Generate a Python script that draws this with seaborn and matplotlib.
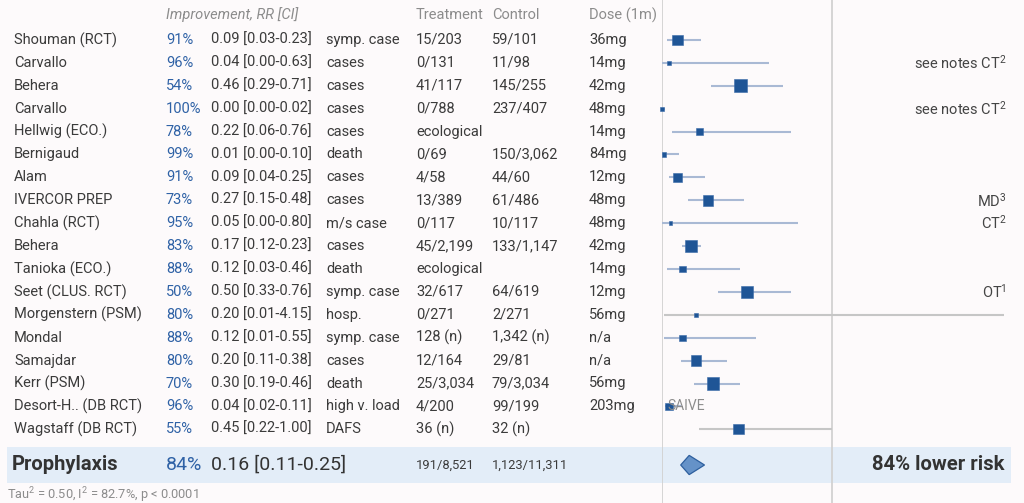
import matplotlib
matplotlib.use("Agg")
import matplotlib.pyplot as plt
import matplotlib.transforms as mtransforms
from matplotlib.patches import Rectangle
import seaborn as sns
import pandas as pd

# ---------------- data ----------------
names = ["Shouman (RCT)", "Carvallo", "Behera", "Carvallo", "Hellwig (ECO.)", "Bernigaud",
         "Alam", "IVERCOR PREP", "Chahla (RCT)", "Behera", "Tanioka (ECO.)", "Seet (CLUS. RCT)",
         "Morgenstern (PSM)", "Mondal", "Samajdar", "Kerr (PSM)", "Desort-H.. (DB RCT)",
         "Wagstaff (DB RCT)"]
improvement = ["91%", "96%", "54%", "100%", "78%", "99%", "91%", "73%", "95%", "83%", "88%",
               "50%", "80%", "88%", "80%", "70%", "96%", "55%"]
rr = [0.09, 0.04, 0.46, 0.00, 0.22, 0.01, 0.09, 0.27, 0.05, 0.17, 0.12, 0.50, 0.20, 0.12,
      0.20, 0.30, 0.04, 0.45]
ci_lo = [0.03, 0.00, 0.29, 0.00, 0.06, 0.00, 0.04, 0.15, 0.00, 0.12, 0.03, 0.33, 0.01, 0.01,
         0.11, 0.19, 0.02, 0.22]
ci_hi = [0.23, 0.63, 0.71, 0.02, 0.76, 0.10, 0.25, 0.48, 0.80, 0.23, 0.46, 0.76, 4.15, 0.55,
         0.38, 0.46, 0.11, 1.00]
outcome = ["symp. case", "cases", "cases", "cases", "cases", "death", "cases", "cases",
           "m/s case", "cases", "death", "symp. case", "hosp.", "symp. case", "cases", "death",
           "high v. load", "DAFS"]
treatment = ["15/203", "0/131", "41/117", "0/788", "ecological", "0/69", "4/58", "13/389",
             "0/117", "45/2,199", "ecological", "32/617", "0/271", "128 (n)", "12/164",
             "25/3,034", "4/200", "36 (n)"]
control = ["59/101", "11/98", "145/255", "237/407", "", "150/3,062", "44/60", "61/486",
           "10/117", "133/1,147", "", "64/619", "2/271", "1,342 (n)", "29/81", "79/3,034",
           "99/199", "32 (n)"]
dose = ["36mg", "14mg", "42mg", "48mg", "14mg", "84mg", "12mg", "48mg", "48mg", "42mg", "14mg",
        "12mg", "56mg", "n/a", "n/a", "56mg", "203mg", ""]
notes = ["", "see notes CT$^{2}$", "", "see notes CT$^{2}$", "", "", "", "MD$^{3}$", "CT$^{2}$",
         "", "", "OT$^{1}$", "", "", "", "", "", ""]
weights = [8.7, 1.2, 11.6, 1.2, 3.8, 1.2, 5.5, 8.2, 1.0, 10.4, 3.2, 9.9, 1.0, 2.9, 8.2, 10.4,
           4.0, 7.6]
headers = ["Improvement, RR [CI]", "Treatment", "Control", "Dose (1m)"]

summary_label = "Prophylaxis"
summary_improvement = "84%"
summary_rr, summary_lo, summary_hi = 0.16, 0.11, 0.25
summary_treatment = "191/8,521"
summary_control = "1,123/11,311"
summary_text = "84% lower risk"
footnote = "Tau$^{2}$ = 0.50, I$^{2}$ = 82.7%, p < 0.0001"
overlay_label = "SAIVE"

# ---------------- style ----------------
sns.set_theme(style="white")
plt.rcParams["font.family"] = ["Roboto", "DejaVu Sans"]
plt.rcParams["mathtext.fontset"] = "custom"
plt.rcParams["mathtext.rm"] = "Roboto"
plt.rcParams["mathtext.it"] = "Roboto:italic"
plt.rcParams["mathtext.bf"] = "Roboto:bold"
plt.rcParams["mathtext.default"] = "rm"

BG = "#fdfafb"
TXT = "#3b3b3b"
BLUE_TXT = "#2f62a6"
GREY_TXT = "#8c8c8c"
MARK = "#1f5596"

W, H = 1024, 503
fig = plt.figure(figsize=(W / 100, H / 100), dpi=100, facecolor=BG)

row_px0, row_dy = 40.0, 22.9
y_top = -row_px0 / row_dy
y_bot = (H - row_px0) / row_dy
x0_px, x1_px = 662, 1004
ax = fig.add_axes([x0_px / W, 0, (x1_px - x0_px) / W, 1])
ax.set_xlim(0, (x1_px - x0_px) / 170.0)
ax.set_ylim(y_bot, y_top)
ax.set_facecolor("none")

trans = mtransforms.blended_transform_factory(fig.transFigure, ax.transData)

n = len(names)
rows = list(range(n))
summary_row = (465 - row_px0) / row_dy

# summary band
band = Rectangle((7 / W, summary_row - 0.79), (1011 - 7) / W, 1.58, transform=trans,
                 facecolor="#e3edf8", edgecolor="none", zorder=0, clip_on=False)
ax.add_patch(band)

# reference lines
ax.axvline(0, color="#d2d2d2", lw=1.3, zorder=1)
ax.axvline(1, color="#d2d2d2", lw=1.3, zorder=1)

# CI lines
line_cols = ["#c6c6c6" if h >= 1 else "#a9b9d4" for h in ci_hi]
ax.hlines(rows, ci_lo, ci_hi, colors=line_cols, lw=1.5, zorder=2)

# squares
df = pd.DataFrame({"rr": rr, "row": rows, "w": weights})
k = 7.19
sns.scatterplot(data=df, x="rr", y="row", size="w", sizes=(min(weights) * k, max(weights) * k),
                size_norm=(min(weights), max(weights)), marker="s", color=MARK,
                edgecolor="#3a6aa8", linewidth=0.4, legend=False, ax=ax, zorder=4,
                clip_on=False)
ax.set_xlabel("")
ax.set_ylabel("")
ax.axis("off")

# summary diamond
dh = 0.42
ax.fill([summary_lo, summary_rr, summary_hi, summary_rr],
        [summary_row, summary_row - dh, summary_row, summary_row + dh],
        facecolor="#6592c8", edgecolor="#2d5f9e", lw=0.9, zorder=4)

# ---------------- texts ----------------
fs = 10.5
col_x = {"name": 14, "pct": 166, "rr": 211, "out": 326, "trt": 416, "ctl": 492, "dose": 589}

def t(xpx, y, s, **kw):
    kw.setdefault("fontsize", fs)
    kw.setdefault("color", TXT)
    kw.setdefault("va", "center")
    ax.text(xpx / W, y, s, transform=trans, clip_on=False, **kw)

hy = (15 - row_px0) / row_dy
t(col_x["pct"], hy, headers[0], color=GREY_TXT, style="italic")
t(col_x["trt"], hy, headers[1], color=GREY_TXT)
t(col_x["ctl"], hy, headers[2], color=GREY_TXT)
t(col_x["dose"], hy, headers[3], color=GREY_TXT)

for i in range(n):
    t(col_x["name"], i, names[i])
    t(col_x["pct"], i, improvement[i], color=BLUE_TXT)
    t(col_x["rr"], i, f"{rr[i]:.2f} [{ci_lo[i]:.2f}-{ci_hi[i]:.2f}]")
    t(col_x["out"], i, outcome[i])
    t(col_x["trt"], i, treatment[i])
    t(col_x["ctl"], i, control[i])
    t(col_x["dose"], i, dose[i])
    if notes[i]:
        t(1007, i, notes[i], ha="right", color="#444444")

# SAIVE overlay on the Desort-H. row
t(667, 16, overlay_label, color=GREY_TXT, fontsize=10, zorder=6)

# summary row
t(12, summary_row, summary_label, fontsize=14.5, fontweight="bold", color="#333333")
t(col_x["pct"], summary_row, summary_improvement, fontsize=14, color=BLUE_TXT)
t(col_x["rr"], summary_row, f"{summary_rr:.2f} [{summary_lo:.2f}-{summary_hi:.2f}]",
  fontsize=14, color="#333333")
t(col_x["trt"], summary_row, summary_treatment, fontsize=9.3)
t(col_x["ctl"], summary_row, summary_control, fontsize=9.3)
t(1004, summary_row, summary_text, fontsize=14.6, fontweight="bold", ha="right",
  color="#333333")

# footnote
t(7, (495 - row_px0) / row_dy, footnote, fontsize=9.2, color=GREY_TXT)

fig.savefig("out.png", dpi=100, facecolor=BG)
